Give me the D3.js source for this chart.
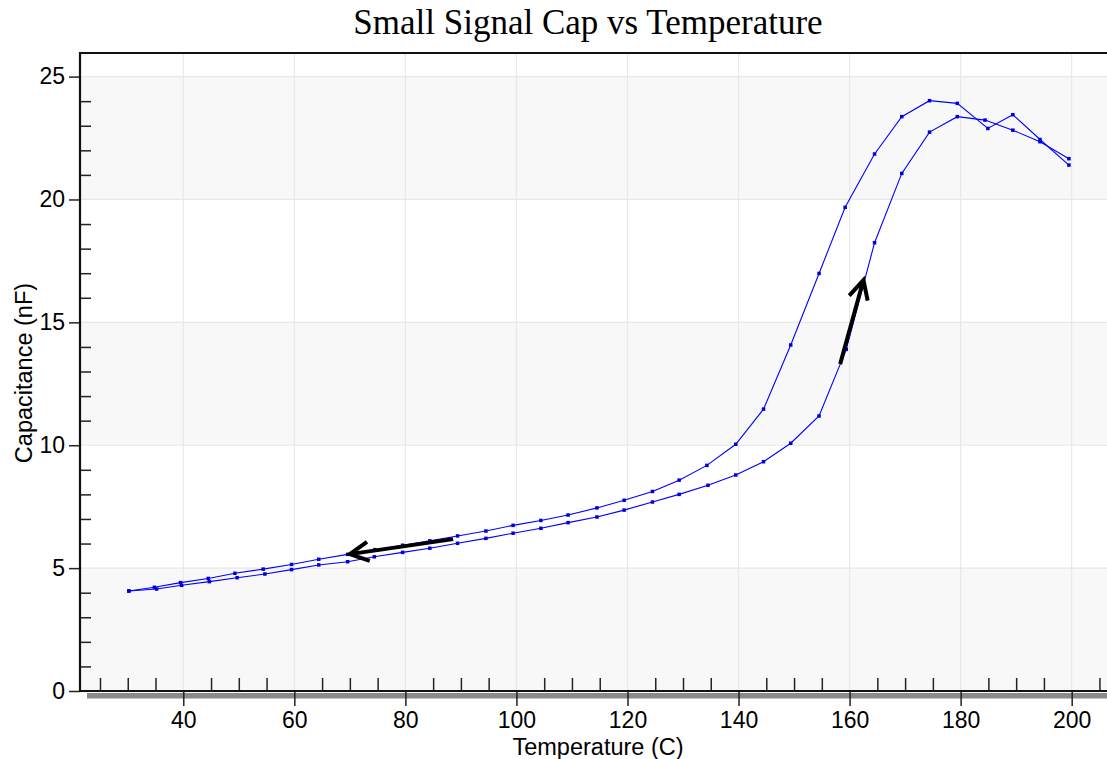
<!DOCTYPE html>
<html>
<head>
<meta charset="utf-8">
<script src="https://cdnjs.cloudflare.com/ajax/libs/d3/7.8.5/d3.min.js"></script>
<style>
  html, body { margin: 0; padding: 0; background: #fff; }
  #chart svg { display: block; }
</style>
</head>
<body>
<div id="chart"></div>
<script>
// heating run (lower branch in the transition)
const heatTemp = [30.2, 35.2, 39.7, 44.7, 49.7, 54.7, 59.5, 64.4, 69.6, 74.4, 79.5, 84.4, 89.4, 94.5, 99.4,
  104.4, 109.3, 114.5, 119.4, 124.5, 129.3, 134.5, 139.5, 144.5, 149.4, 154.5, 159.4, 164.5, 169.4, 174.4,
  179.4, 184.4, 189.4, 194.3, 199.5];
const heatCap = [4.07, 4.15, 4.30, 4.45, 4.61, 4.76, 4.94, 5.13, 5.26, 5.46, 5.64, 5.81, 6.01, 6.21, 6.42,
  6.62, 6.85, 7.08, 7.36, 7.69, 8.00, 8.37, 8.79, 9.33, 10.08, 11.19, 13.9, 18.24, 21.06, 22.74,
  23.37, 23.23, 22.82, 22.35, 21.66];

// cooling run (upper branch)
const coolTemp = [199.5, 194.3, 189.4, 184.9, 179.4, 174.4, 169.4, 164.5, 159.2, 154.5, 149.4, 144.5, 139.5,
  134.3, 129.3, 124.5, 119.4, 114.5, 109.3, 104.4, 99.4, 94.5, 89.4, 84.4, 79.5, 74.5, 69.6, 64.4, 59.5,
  54.4, 49.3, 44.5, 39.5, 34.8, 30.2];
const coolCap = [21.40, 22.44, 23.45, 22.89, 23.91, 24.02, 23.37, 21.85, 19.68, 16.99, 14.08, 11.47, 10.04,
  9.18, 8.58, 8.12, 7.76, 7.45, 7.16, 6.94, 6.74, 6.51, 6.31, 6.11, 5.93, 5.75, 5.56, 5.36, 5.15,
  4.96, 4.79, 4.58, 4.41, 4.22, 4.07];

const xTicks = [40, 60, 80, 100, 120, 140, 160, 180, 200];
const yTicks = [0, 5, 10, 15, 20, 25];
const xMinor = d3.range(25, 206, 5).filter((v) => v % 20 !== 0);
const yMinor = d3.range(1, 25).filter((v) => v % 5 !== 0);
const bands = [[0, 5], [10, 15], [20, 25]];

// direction arrows [fromT, fromC, toT, toC]
const arrows = [[88.6, 6.18, 70.0, 5.57], [158.3, 13.3, 162.5, 16.72]];

const w = 1107;
const h = 759;
const margin = { top: 53, right: 0, bottom: 68, left: 80 };

const xScale = d3.scaleLinear()
  .domain([21.4, 206.36])
  .range([margin.left, w - margin.right]);

const yScale = d3.scaleLinear()
  .domain([0, 25.96])
  .range([h - margin.bottom, margin.top]);

const svg = d3.select("#chart")
  .append("svg")
  .attr("width", w)
  .attr("height", h);

svg.append("rect").attr("width", w).attr("height", h).attr("fill", "#fff");

// alternating bands
svg.selectAll("rect.band")
  .data(bands)
  .enter()
  .append("rect")
  .attr("class", "band")
  .attr("x", margin.left)
  .attr("y", (d) => yScale(d[1]))
  .attr("width", w - margin.right - margin.left)
  .attr("height", (d) => yScale(d[0]) - yScale(d[1]))
  .attr("fill", "#f8f8f8");

// grid
svg.selectAll("line.vgrid")
  .data(xTicks)
  .enter()
  .append("line")
  .attr("x1", (d) => xScale(d))
  .attr("x2", (d) => xScale(d))
  .attr("y1", margin.top)
  .attr("y2", h - margin.bottom)
  .attr("stroke", "#e8e8e8")
  .attr("stroke-width", 1.2);

svg.selectAll("line.hgrid")
  .data(yTicks)
  .enter()
  .append("line")
  .attr("x1", margin.left)
  .attr("x2", w - margin.right)
  .attr("y1", (d) => yScale(d))
  .attr("y2", (d) => yScale(d))
  .attr("stroke", "#e8e8e8")
  .attr("stroke-width", 1.2);

// series
const line = d3.line()
  .x((d) => xScale(d[0]))
  .y((d) => yScale(d[1]));

const series = [
  d3.zip(heatTemp, heatCap),
  d3.zip(coolTemp, coolCap)
];

series.forEach((s) => {
  svg.append("path")
    .datum(s)
    .attr("d", line)
    .attr("fill", "none")
    .attr("stroke", "#0000ff")
    .attr("stroke-width", 1.1);

  svg.append("g")
    .selectAll("rect")
    .data(s)
    .enter()
    .append("rect")
    .attr("x", (d) => xScale(d[0]) - 1.75)
    .attr("y", (d) => yScale(d[1]) - 1.75)
    .attr("width", 3.5)
    .attr("height", 3.5)
    .attr("fill", "#0000dd");
});

// arrows
arrows.forEach((a) => {
  const x1 = xScale(a[0]), y1 = yScale(a[1]);
  const x2 = xScale(a[2]), y2 = yScale(a[3]);
  const ang = Math.atan2(y1 - y2, x1 - x2);
  const len = 21, spread = 27 * Math.PI / 180;
  const p = d3.path();
  p.moveTo(x1, y1);
  p.lineTo(x2, y2);
  p.moveTo(x2 + len * Math.cos(ang - spread), y2 + len * Math.sin(ang - spread));
  p.lineTo(x2, y2);
  p.lineTo(x2 + len * Math.cos(ang + spread), y2 + len * Math.sin(ang + spread));
  svg.append("path")
    .attr("d", p.toString())
    .attr("fill", "none")
    .attr("stroke", "#000")
    .attr("stroke-width", 4)
    .attr("stroke-linejoin", "miter");
});

// axes
const xAxis = d3.axisBottom(xScale).tickValues(xTicks).tickSize(15).tickPadding(6);
const xMinorAxis = d3.axisTop(xScale).tickValues(xMinor).tickSize(13).tickFormat("");
const yAxis = d3.axisLeft(yScale).tickValues(yTicks).tickSize(11).tickPadding(4);
const yMinorAxis = d3.axisRight(yScale).tickValues(yMinor).tickSize(11).tickFormat("");

const axisY = h - margin.bottom;

// shadow under bottom axis
svg.append("rect")
  .attr("x", margin.left + 7)
  .attr("y", axisY + 2)
  .attr("width", w - margin.left - 7)
  .attr("height", 5.5)
  .attr("fill", "#8a8a8a");

svg.append("g")
  .attr("id", "x-axis")
  .attr("transform", "translate(0," + axisY + ")")
  .call(xAxis);
svg.append("g")
  .attr("transform", "translate(0," + axisY + ")")
  .call(xMinorAxis);
svg.append("g")
  .attr("id", "y-axis")
  .attr("transform", "translate(" + margin.left + ",0)")
  .call(yAxis);
svg.append("g")
  .attr("transform", "translate(" + margin.left + ",0)")
  .call(yMinorAxis);

svg.selectAll(".domain").remove();
svg.selectAll(".tick line").attr("stroke", "#222").attr("stroke-width", 1.5);
svg.selectAll(".tick text")
  .attr("fill", "#000")
  .style("font-family", "'Liberation Sans', Arial, sans-serif")
  .style("font-size", "23px");

// frame lines
svg.append("line")
  .attr("x1", margin.left).attr("x2", w)
  .attr("y1", axisY).attr("y2", axisY)
  .attr("stroke", "#111").attr("stroke-width", 2.2);
svg.append("line")
  .attr("x1", margin.left).attr("x2", margin.left)
  .attr("y1", margin.top - 1).attr("y2", axisY + 1)
  .attr("stroke", "#111").attr("stroke-width", 2.2);
svg.append("line")
  .attr("x1", margin.left - 1).attr("x2", w)
  .attr("y1", margin.top).attr("y2", margin.top)
  .attr("stroke", "#111").attr("stroke-width", 2.2);

// titles
svg.append("text")
  .attr("x", 588)
  .attr("y", 34)
  .attr("text-anchor", "middle")
  .style("font-family", "'Liberation Serif', 'Times New Roman', serif")
  .style("font-size", "35px")
  .text("Small Signal Cap vs Temperature");

svg.append("text")
  .attr("x", 598)
  .attr("y", 755)
  .attr("text-anchor", "middle")
  .style("font-family", "'Liberation Sans', Arial, sans-serif")
  .style("font-size", "23.5px")
  .text("Temperature (C)");

svg.append("text")
  .attr("transform", "translate(32," + 373 + ") rotate(-90)")
  .attr("text-anchor", "middle")
  .style("font-family", "'Liberation Sans', Arial, sans-serif")
  .style("font-size", "23.5px")
  .text("Capacitance (nF)");
</script>
</body>
</html>
